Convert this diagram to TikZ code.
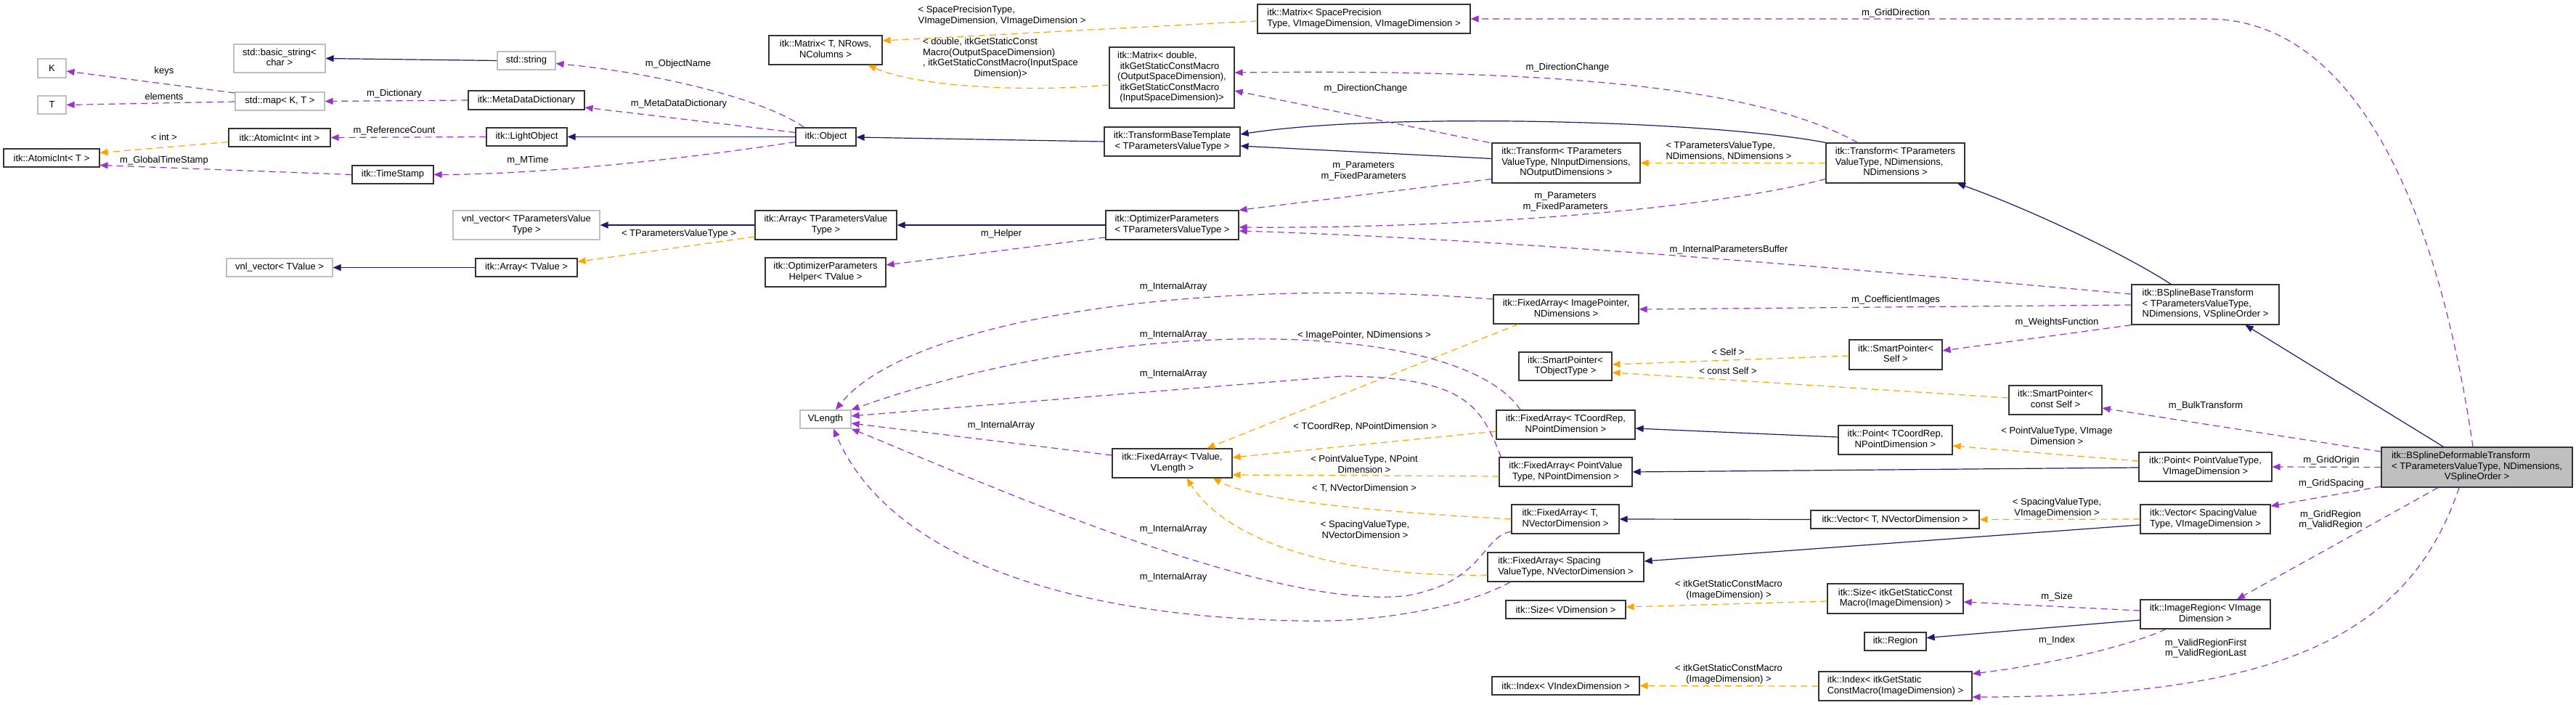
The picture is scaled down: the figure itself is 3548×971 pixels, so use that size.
\documentclass[tikz,border=0pt]{standalone}
\usepackage{fontspec}
\setmainfont{Liberation Sans}
\usetikzlibrary{arrows.meta, calc}

\definecolor{inhblue}{HTML}{191970}
\definecolor{tmplorange}{HTML}{FFA500}
\definecolor{usepurple}{HTML}{9A32CD}
\definecolor{boxgray}{HTML}{BFBFBF}

% lines left-justified, last line centred
\newcommand{\clabel}[2]{\begin{tabular}{@{}l@{}}#1\\\multicolumn{1}{@{}c@{}}{#2}\end{tabular}}

\begin{document}
\begin{tikzpicture}[
  x=1pt, y=-1pt,
  font=\fontsize{13}{14.5}\selectfont,
  cls/.style={rectangle, draw=black!80, line width=1.2pt, fill=white,
              inner sep=1pt, align=center},
  ext/.style={cls, draw=boxgray},
  focus/.style={cls, fill=boxgray},
  lbl/.style={inner sep=0pt, align=center},
  inh/.style={draw=inhblue, line width=1.2pt, -{Triangle[length=11pt, width=9pt]}},
  tmpl/.style={draw=tmplorange, line width=1.2pt, dash pattern=on 9pt off 6pt,
               -{Triangle[length=11pt, width=9pt]}},
  member/.style={draw=usepurple, line width=1.2pt, dash pattern=on 9pt off 6pt,
                 -{Triangle[length=11pt, width=9pt]}},
]
\fill[white] (0,0) rectangle (3548,971);
\useasboundingbox (0,0) rectangle (3548,971);

% external classes
\node[ext, minimum width=126pt, minimum height=39pt] (basicstring) at (385,80.5) {\clabel{std::basic\_string<}{char >}};
\node[ext, minimum width=39pt, minimum height=26pt] (K) at (71.5,94) {K};
\node[ext, minimum width=39pt, minimum height=25pt] (T) at (71.5,144.5) {T};
\node[ext, minimum width=123pt, minimum height=25pt] (stdmap) at (385.5,139.5) {std::map< K, T >};
\node[ext, minimum width=146pt, minimum height=25pt] (vnltvalue) at (385,368.5) {vnl\_vector< TValue >};
\node[ext, minimum width=80pt, minimum height=25pt] (stdstring) at (725,83.5) {std::string};
\node[ext, minimum width=202pt, minimum height=40pt] (vnlparam) at (725,310) {\clabel{vnl\_vector< TParametersValue}{Type >}};
\node[ext, minimum width=70pt, minimum height=25pt] (vlength) at (1137,577.5) {VLength};

% itk classes
\node[cls, minimum width=140pt, minimum height=25pt] (atomicint) at (385,189.5) {itk::AtomicInt< int >};
\node[cls, minimum width=132pt, minimum height=25pt] (atomicT) at (71,217.5) {itk::AtomicInt< T >};
\node[cls, minimum width=112pt, minimum height=25pt] (timestamp) at (541,240.5) {itk::TimeStamp};
\node[cls, minimum width=160pt, minimum height=26pt] (metadict) at (725,138) {itk::MetaDataDictionary};
\node[cls, minimum width=111pt, minimum height=25pt] (lightobj) at (725.5,188.5) {itk::LightObject};
\node[cls, minimum width=83pt, minimum height=25pt] (object) at (1137.5,188.5) {itk::Object};
\node[cls, minimum width=156pt, minimum height=40pt] (matrixT) at (1137,69) {\clabel{itk::Matrix< T, NRows,}{NColumns >}};
\node[cls, minimum width=195pt, minimum height=40pt] (arrayparam) at (1137.5,310) {\clabel{itk::Array< TParametersValue}{Type >}};
\node[cls, minimum width=140pt, minimum height=25pt] (arraytvalue) at (725,368.5) {itk::Array< TValue >};
\node[cls, minimum width=166pt, minimum height=40pt] (opthelper) at (1137,375) {\clabel{itk::OptimizerParameters}{Helper< TValue >}};
\node[cls, minimum width=293pt, minimum height=40pt] (matrixsp) at (1878.5,26) {\clabel{itk::Matrix< SpacePrecision}{Type, VImageDimension, VImageDimension >}};
\node[cls, minimum width=172pt, minimum height=84pt] (matrixdbl) at (1614,107) {\clabel{itk::Matrix< double,\\\ itkGetStaticConstMacro\\(OutputSpaceDimension),\\\ itkGetStaticConstMacro}{(InputSpaceDimension)>}};
\node[cls, minimum width=187pt, minimum height=40pt] (tbt) at (1614.5,195) {\clabel{itk::TransformBaseTemplate}{< TParametersValueType >}};
\node[cls, minimum width=183pt, minimum height=40pt] (optparams) at (1614.5,310) {\clabel{itk::OptimizerParameters}{< TParametersValueType >}};
\node[cls, minimum width=165pt, minimum height=40pt] (fatv) at (1614.5,638) {\clabel{itk::FixedArray< TValue,}{VLength >}};
\node[cls, minimum width=204pt, minimum height=55pt] (transformNI) at (2157,224.5) {\clabel{itk::Transform< TParameters\\ValueType, NInputDimensions,}{NOutputDimensions >}};
\node[cls, minimum width=200pt, minimum height=40pt] (faip) at (2157,426) {\clabel{itk::FixedArray< ImagePointer,}{NDimensions >}};
\node[cls, minimum width=128pt, minimum height=39pt] (sptobj) at (2156,504.5) {\clabel{itk::SmartPointer<}{TObjectType >}};
\node[cls, minimum width=191pt, minimum height=40pt] (fatc) at (2156.5,585) {\clabel{itk::FixedArray< TCoordRep,}{NPointDimension >}};
\node[cls, minimum width=183pt, minimum height=40pt] (fapv) at (2156.5,650) {\clabel{itk::FixedArray< PointValue}{Type, NPointDimension >}};
\node[cls, minimum width=148pt, minimum height=40pt] (fat) at (2156,715) {\clabel{itk::FixedArray< T,}{NVectorDimension >}};
\node[cls, minimum width=215pt, minimum height=40pt] (fasv) at (2156.5,781) {\clabel{itk::FixedArray< Spacing}{ValueType, NVectorDimension >}};
\node[cls, minimum width=165pt, minimum height=25pt] (sizevd) at (2156.5,839.5) {itk::Size< VDimension >};
\node[cls, minimum width=203pt, minimum height=25pt] (indexvi) at (2156.5,944.5) {itk::Index< VIndexDimension >};
\node[cls, minimum width=191pt, minimum height=55pt] (transformND) at (2610.5,224.5) {\clabel{itk::Transform< TParameters\\ValueType, NDimensions,}{NDimensions >}};
\node[cls, minimum width=128pt, minimum height=41pt] (spself) at (2611,488.5) {\clabel{itk::SmartPointer<}{Self >}};
\node[cls, minimum width=157pt, minimum height=40pt] (pointtc) at (2610.5,606) {\clabel{itk::Point< TCoordRep,}{NPointDimension >}};
\node[cls, minimum width=232pt, minimum height=25pt] (vectort) at (2610,715.5) {itk::Vector< T, NVectorDimension >};
\node[cls, minimum width=187pt, minimum height=41pt] (sizeitk) at (2610.5,824.5) {\clabel{itk::Size< itkGetStaticConst}{Macro(ImageDimension) >}};
\node[cls, minimum width=85pt, minimum height=25pt] (region) at (2610.5,883.5) {itk::Region};
\node[cls, minimum width=211pt, minimum height=40pt] (indexitk) at (2610.5,945) {\clabel{itk::Index< itkGetStatic}{ConstMacro(ImageDimension) >}};
\node[cls, minimum width=128pt, minimum height=40pt] (spconst) at (2831,551) {\clabel{itk::SmartPointer<}{const Self >}};
\node[cls, minimum width=203pt, minimum height=55pt] (bsbase) at (3037.5,419.5) {\clabel{itk::BSplineBaseTransform\\< TParametersValueType,}{NDimensions, VSplineOrder >}};
\node[cls, minimum width=183pt, minimum height=40pt] (pointpv) at (3037.5,643) {\clabel{itk::Point< PointValueType,}{VImageDimension >}};
\node[cls, minimum width=179pt, minimum height=40pt] (vectorsv) at (3037.5,715) {\clabel{itk::Vector< SpacingValue}{Type, VImageDimension >}};
\node[cls, minimum width=179pt, minimum height=40pt] (imgregion) at (3037.5,846) {\clabel{itk::ImageRegion< VImage}{Dimension >}};
\node[focus, minimum width=263pt, minimum height=55pt] (bsdeform) at (3411.5,643.5) {\clabel{itk::BSplineDeformableTransform\\< TParametersValueType, NDimensions,}{VSplineOrder >}};

% inheritance
\draw[inh] (stdstring.west) -- (basicstring.east);
\draw[inh] (object.west) -- (lightobj.east);
\draw[inh] (tbt.west) -- ($(object.east)+(0,0.5)$);
\draw[inh] ($(transformNI.west)+(0,-6)$) -- ($(tbt.east)+(0,6)$);
\draw[inh] (transformND.north west) .. controls (2350,165) and (1900,155) .. ($(tbt.east)+(0,-10)$);
\draw[inh] (arrayparam.west) -- (vnlparam.east);
\draw[inh] (arraytvalue.west) -- (vnltvalue.east);
\draw[inh] (optparams.west) -- (arrayparam.east);
\draw[inh] ($(bsbase.north)+(-47.5,0)$) .. controls (2930,352) and (2800,290) .. ($(transformND.south)+(85.5,0)$);
\draw[inh] ($(bsdeform.north)+(-46,0)$) -- ($(bsbase.south)+(55,0)$);
\draw[inh] ($(pointtc.west)+(0,-4)$) -- ($(fatc.east)+(0,5)$);
\draw[inh] ($(pointpv.west)+(0,1)$) -- (fapv.east);
\draw[inh] (vectort.west) -- (fat.east);
\draw[inh] ($(vectorsv.west)+(0,8)$) -- ($(fasv.east)+(0,-8)$);
\draw[inh] ($(imgregion.west)+(0,8)$) -- ($(region.east)+(0,-5)$);

% template instances
\draw[tmpl] ($(atomicint.west)+(0,6)$) -- ($(atomicT.east)+(0,-7)$);
\draw[tmpl] ($(matrixsp.west)+(0,3)$) -- ($(matrixT.east)+(0,-13)$);
\draw[tmpl] ($(matrixdbl.west)+(0,10)$) .. controls (1400,128) and (1260,118) .. ($(matrixT.south east)+(-20,0)$);
\draw[tmpl] ($(arrayparam.west)+(0,16)$) -- ($(arraytvalue.east)+(0,-8)$);
\draw[tmpl] (transformND.west) -- (transformNI.east);
\draw[tmpl] ($(faip.south)+(-66,0)$) -- ($(fatv.north)+(48,0)$);
\draw[tmpl] ($(fatc.west)+(0,9)$) -- ($(fatv.east)+(0,-8)$);
\draw[tmpl] ($(fapv.west)+(0,6)$) -- ($(fatv.east)+(0,16)$);
\draw[tmpl] (fat.west) .. controls (1900,705) and (1730,690) .. ($(fatv.south east)+(-27,0)$);
\draw[tmpl] ($(fasv.west)+(0,11)$) .. controls (1880,795) and (1700,760) .. ($(fatv.south)+(20,0)$);
\draw[tmpl] ($(spself.west)+(0,1.5)$) -- ($(sptobj.east)+(0,-2.5)$);
\draw[tmpl] ($(spconst.west)+(0,-3)$) -- ($(sptobj.east)+(0,8.5)$);
\draw[tmpl] ($(pointpv.west)+(0,-8)$) -- ($(pointtc.east)+(0,8)$);
\draw[tmpl] (vectorsv.west) -- (vectort.east);
\draw[tmpl] ($(sizeitk.west)+(0,3.5)$) -- ($(sizevd.east)+(0,-3.5)$);
\draw[tmpl] (indexitk.west) -- (indexvi.east);

% members
\draw[member] ($(stdmap.west)+(0,-11.5)$) -- ($(K.east)+(0,4)$);
\draw[member] ($(stdmap.west)+(0,0.5)$) -- (T.east);
\draw[member] (metadict.west) -- (stdmap.east);
\draw[member] (lightobj.west) -- (atomicint.east);
\draw[member] (timestamp.west) -- ($(atomicT.east)+(0,10)$);
\draw[member] ($(object.north)+(-30,0)$) .. controls (1050,135) and (900,100) .. ($(stdstring.east)+(0,4)$);
\draw[member] ($(object.west)+(0,-6)$) -- ($(metadict.east)+(0,10)$);
\draw[member] ($(object.west)+(0,7)$) .. controls (950,218) and (750,240) .. (timestamp.east);
\draw[member] ($(optparams.west)+(0,17)$) -- ($(opthelper.east)+(0,-10)$);
\draw[member] ($(transformNI.north)+(-106,0)$) -- ($(matrixdbl.east)+(0,18)$);
\draw[member] ($(transformND.north)+(-52,0)$) .. controls (2420,120) and (2150,95) .. ($(matrixdbl.east)+(0,-7)$);
\draw[member] ($(transformNI.west)+(0,22)$) -- (optparams.north east);
\draw[member] ($(transformND.west)+(0,22)$) .. controls (2350,290) and (2000,315) .. ($(optparams.east)+(0,3)$);
\draw[member] ($(bsbase.west)+(0,-14.5)$) .. controls (2600,375) and (2100,330) .. ($(optparams.east)+(0,8)$);
\draw[member] ($(bsbase.west)+(0,0.5)$) -- (faip.east);
\draw[member] (bsbase.south west) -- ($(spself.east)+(0,-5.5)$);
\draw[member] ($(bsdeform.north)+(-5.5,0)$) .. controls (3360,300) and (3250,26) .. (3040,26) -- (matrixsp.east);
\draw[member] ($(bsdeform.west)+(0,-21.5)$) -- ($(spconst.east)+(0,11)$);
\draw[member] (bsdeform.west) -- (pointpv.east);
\draw[member] ($(bsdeform.west)+(0,26.5)$) -- ($(vectorsv.east)+(0,-18)$);
\draw[member] ($(bsdeform.south)+(-53.5,0)$) -- ($(imgregion.north)+(43.5,0)$);
\draw[member] ($(bsdeform.south)+(-24.5,0)$) .. controls (3320,870) and (3150,960) .. ($(indexitk.east)+(0,15)$);
\draw[member] ($(imgregion.west)+(0,-5)$) -- ($(sizeitk.east)+(0,4.5)$);
\draw[member] ($(imgregion.south)+(-54.5,0)$) .. controls (2920,895) and (2800,918) .. ($(indexitk.east)+(0,-17)$);
% m_InternalArray into VLength
\draw[member] ($(faip.west)+(0,-14)$) .. controls (1650,380) and (1250,440) .. ($(vlength.north)+(14,0)$);
\draw[member] ($(fatc.north)+(-62.5,0)$) .. controls (2010,440) and (1550,430) .. (vlength.north east);
\draw[member] ($(fapv.north west)+(3,0)$) .. controls (2040,560) and (2020,520) .. (1850,518) -- ($(vlength.east)+(0,-4.5)$);
\draw[member] ($(fatv.west)+(0,-11)$) -- ($(vlength.east)+(0,5.5)$);
\draw[member] ($(fat.west)+(0,17)$) .. controls (2040,740) and (2045,800) .. (1940,820) .. controls (1750,845) and (1320,650) .. (vlength.south east);
\draw[member] ($(fasv.south west)+(32,0)$) .. controls (2020,835) and (1900,858) .. (1790,855) .. controls (1500,850) and (1230,780) .. ($(vlength.south)+(11,0)$);

% edge labels
\node[lbl] (l-keys) at (226,98) {keys};
\node[lbl] (l-elements) at (226,133) {elements};
\node[lbl] (l-int) at (226,189) {< int >};
\node[lbl] (l-gts) at (226,221) {m\_GlobalTimeStamp};
\node[lbl] (l-dict) at (543,129) {m\_Dictionary};
\node[lbl] (l-refcount) at (543,180) {m\_ReferenceCount};
\node[lbl] (l-objname) at (934,88) {m\_ObjectName};
\node[lbl] (l-mdd) at (935,143) {m\_MetaDataDictionary};
\node[lbl] (l-mtime) at (727,221) {m\_MTime};
\node[lbl] (l-tpvt) at (935,322) {< TParametersValueType >};
\node[lbl] (l-matsp) at (1380,22) {\clabel{< SpacePrecisionType,}{VImageDimension, VImageDimension >}};
\node[lbl] (l-matdbl) at (1378,80.5) {\clabel{< double, itkGetStaticConst\\Macro(OutputSpaceDimension)\\, itkGetStaticConstMacro(InputSpace}{Dimension)>}};
\node[lbl] (l-helper) at (1379,322) {m\_Helper};
\node[lbl] (l-dirchange1) at (1881,122) {m\_DirectionChange};
\node[lbl] (l-dirchange2) at (2159,93) {m\_DirectionChange};
\node[lbl] (l-params1) at (1878,236) {m\_Parameters\\m\_FixedParameters};
\node[lbl] (l-params2) at (2156,278) {m\_Parameters\\m\_FixedParameters};
\node[lbl] (l-tnd) at (2381,209) {\clabel{< TParametersValueType,}{NDimensions, NDimensions >}};
\node[lbl] (l-ipb) at (2381,344) {m\_InternalParametersBuffer};
\node[lbl] (l-imgptr) at (1879,462) {< ImagePointer, NDimensions >};
\node[lbl] (l-griddir) at (2611,18) {m\_GridDirection};
\node[lbl] (l-coeff) at (2611,413) {m\_CoefficientImages};
\node[lbl] (l-weights) at (2833,444) {m\_WeightsFunction};
\node[lbl] (l-self) at (2380,485) {< Self >};
\node[lbl] (l-constself) at (2380,511) {< const Self >};
\node[lbl] (l-bulk) at (3038,559) {m\_BulkTransform};
\node[lbl] (l-pvvi) at (2833,602) {\clabel{< PointValueType, VImage}{Dimension >}};
\node[lbl] (l-origin) at (3211,634) {m\_GridOrigin};
\node[lbl] (l-spacing) at (3211,666) {m\_GridSpacing};
\node[lbl] (l-svvi) at (2833,700) {\clabel{< SpacingValueType,}{VImageDimension >}};
\node[lbl] (l-gridregion) at (3210,716) {m\_GridRegion\\m\_ValidRegion};
\node[lbl] (l-size) at (2833,822) {m\_Size};
\node[lbl] (l-index) at (2833,882) {m\_Index};
\node[lbl] (l-validfl) at (3038,893) {m\_ValidRegionFirst\\m\_ValidRegionLast};
\node[lbl] (l-tcnpd) at (1880,588) {< TCoordRep, NPointDimension >};
\node[lbl] (l-pvnpd) at (1879,641) {\clabel{< PointValueType, NPoint}{Dimension >}};
\node[lbl] (l-tnvd) at (1879,673) {< T, NVectorDimension >};
\node[lbl] (l-svnvd) at (1880,731) {\clabel{< SpacingValueType,}{NVectorDimension >}};
\node[lbl] (l-sizemacro) at (2381,813) {\clabel{< itkGetStaticConstMacro}{(ImageDimension) >}};
\node[lbl] (l-indexmacro) at (2381,929) {\clabel{< itkGetStaticConstMacro}{(ImageDimension) >}};
\node[lbl] (l-ia1) at (1616,395) {m\_InternalArray};
\node[lbl] (l-ia2) at (1616,461) {m\_InternalArray};
\node[lbl] (l-ia3) at (1616,515) {m\_InternalArray};
\node[lbl] (l-ia4) at (1379,586) {m\_InternalArray};
\node[lbl] (l-ia5) at (1616,729) {m\_InternalArray};
\node[lbl] (l-ia6) at (1616,795) {m\_InternalArray};
\end{tikzpicture}
\end{document}
